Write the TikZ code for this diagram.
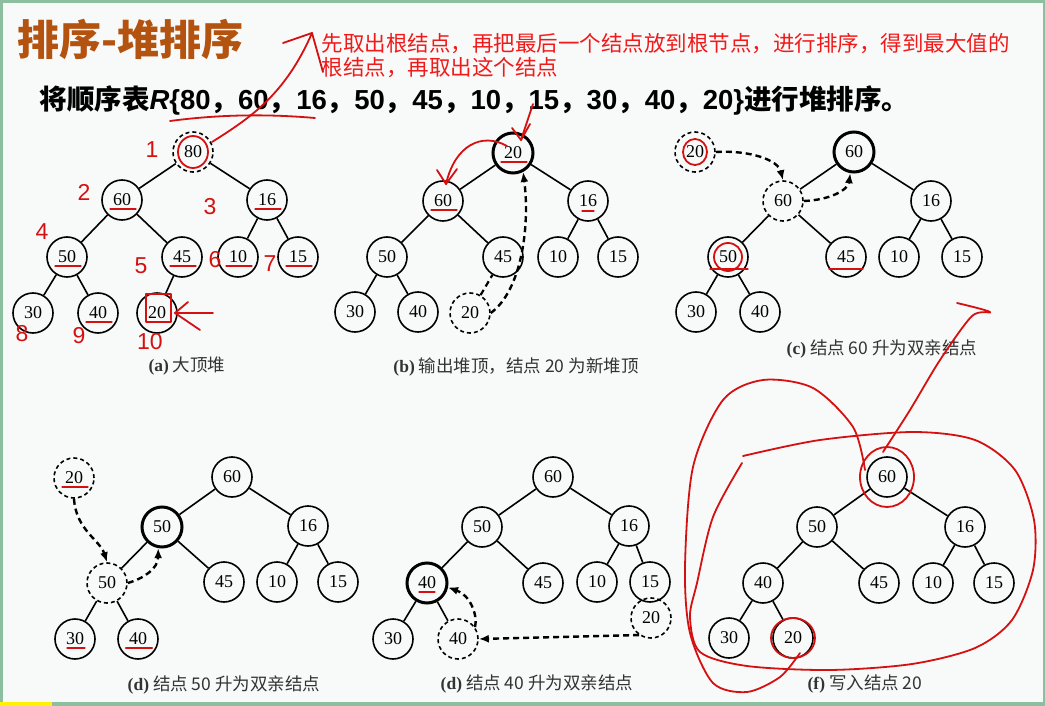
\documentclass[tikz,border=0pt]{standalone}
\usepackage{fontspec}
\setmainfont{Liberation Serif}
\newfontfamily\cjk{Noto Sans CJK SC}
\newfontfamily\arialfont{Liberation Sans}
\usetikzlibrary{arrows.meta,calc,positioning}
\newcommand{\sortnum}[1]{{\arialfont\bfseries #1}}
\definecolor{TitleBrown}{HTML}{B4520F}
\definecolor{FrameGreen}{HTML}{8CBFA0}
\definecolor{PaperWhite}{HTML}{F8FAF9}
\definecolor{PenRed}{HTML}{D41010}
\definecolor{NoteRed}{HTML}{F01A1A}
\tikzset{
    hnode/.style = {draw, circle, line width=1.6pt, minimum size=40pt,
        inner sep=0pt, font=\fontsize{18}{18}\selectfont},
    topnode/.style = {hnode, line width=3pt},
    ghost/.style = {hnode, dash pattern=on 4pt off 3pt},
    edge/.style = {draw, line width=1.6pt},
    move/.style = {draw, line width=2.4pt, dash pattern=on 6pt off 4pt,
        -{Latex[length=10pt,width=8pt]}},
    caption/.style = {font=\cjk\fontsize{17.5}{17.5}\selectfont, text=black!80},
    pen/.style = {draw=PenRed, line width=1.8pt, line cap=round, line join=round},
    hand/.style = {text=PenRed, inner sep=1pt, font=\arialfont\fontsize{23}{23}\selectfont}
}
\begin{document}
\begin{tikzpicture}[x=1pt, y=-1pt]
    % page
    \useasboundingbox (0,0) rectangle (1045,706);
    \fill[PaperWhite] (0,0) rectangle (1045,706);
    \fill[FrameGreen] (0,0) rectangle (3,706);
    \fill[FrameGreen] (0,0) rectangle (1045,3);
    \fill[FrameGreen] (1043,0) rectangle (1045,706);
    \fill[FrameGreen] (0,702) rectangle (1045,706);
    \fill[yellow] (0,702) rectangle (52,706);
    % headings
    \node[anchor=west, text=TitleBrown, font=\cjk\bfseries\fontsize{42}{42}\selectfont] (title) at (14,39) {排序-堆排序};
    \node[anchor=west, font=\cjk\bfseries\fontsize{27.5}{27.5}\selectfont] (task) at (36,100)
        {将顺序表\sortnum{\itshape R}\sortnum{\{80}，\sortnum{60}，\sortnum{16}，\sortnum{50}，\sortnum{45}，\sortnum{10}，\sortnum{15}，\sortnum{30}，\sortnum{40}，\sortnum{20\}}进行堆排序。};
    \node[anchor=north west, align=left, text=NoteRed, font=\cjk\fontsize{21.5}{24}\selectfont] (note) at (318,30)
        {先取出根结点，再把最后一个结点放到根节点，进行排序，得到最大值的\\根结点，再取出这个结点};

    % (a)
    \begin{scope}[shift={(193,152)}]
        \foreach \n/\x/\y/\v/\s in {1/0/0/80/ghost, 2/-71/48/60/hnode, 3/74/48/16/hnode,
            4/-126/105/50/hnode, 5/-11/105/45/hnode, 6/45/105/10/hnode, 7/105/105/15/hnode,
            8/-160/161/30/hnode, 9/-95/161/40/hnode, 10/-36/161/20/hnode}
            \node[\s] (a\n) at (\x,\y) {\v};
        \foreach \p/\c in {1/2,1/3,2/4,2/5,3/6,3/7,4/8,4/9,5/10}
            \draw[edge] (a\p) -- (a\c);
    \end{scope}
    \node[caption] (capa) at (187,366) {{\rmfamily\bfseries (a)}\ 大顶堆};

    % (b)
    \begin{scope}[shift={(513,153)}]
        \foreach \n/\x/\y/\v/\s in {1/0/0/20/topnode, 2/-70/48/60/hnode, 3/75/48/16/hnode,
            4/-126/104/50/hnode, 5/-10/104/45/hnode, 6/45/104/10/hnode, 7/105/104/15/hnode,
            8/-158/159/30/hnode, 9/-95/159/40/hnode, 10/-43/160/20/ghost}
            \node[\s] (b\n) at (\x,\y) {\v};
        \foreach \p/\c in {1/2,1/3,2/4,2/5,3/6,3/7,4/8,4/9}
            \draw[edge] (b\p) -- (b\c);
    \end{scope}
    \draw[edge, line width=2.2pt, dash pattern=on 6pt off 4pt] (b10) -- (b5);
    \draw[move] (b10.east) .. controls (522,290) and (530,225) .. (b1.-62);
    \node[caption] (capb) at (516,367) {{\rmfamily\bfseries (b)}\ 输出堆顶，结点 20 为新堆顶};

    % (c)
    \begin{scope}[shift={(854,152)}]
        \foreach \n/\x/\y/\v/\s in {0/-159/0/20/ghost, 1/0/0/60/topnode, 2/-71/49/60/ghost,
            3/77/49/16/hnode, 4/-126/105/50/hnode, 5/-8/105/45/hnode, 6/45/105/10/hnode,
            7/108/105/15/hnode, 8/-158/160/30/hnode, 9/-94/160/40/hnode}
            \node[\s] (c\n) at (\x,\y) {\v};
        \foreach \p/\c in {1/2,1/3,2/4,2/5,3/6,3/7,4/8,4/9}
            \draw[edge] (c\p) -- (c\c);
    \end{scope}
    \draw[move] (c0.east) .. controls (750,150) and (778,160) .. (c2.north);
    \draw[move] (c2.east) .. controls (830,200) and (848,190) .. (c1.-100);
    \node[caption] (capc) at (882,349) {{\rmfamily\bfseries (c)}\ 结点 60 升为双亲结点};

    % (d) 50
    \begin{scope}[shift={(232,477)}]
        \foreach \n/\x/\y/\v/\s in {0/-158/1/20/ghost, 1/0/0/60/hnode, 2/-70/50/50/topnode,
            3/76/49/16/hnode, 4/-125/106/50/ghost, 5/-8/105/45/hnode, 6/45/105/10/hnode,
            7/106/105/15/hnode, 8/-157/162/30/hnode, 9/-94/162/40/hnode}
            \node[\s] (d\n) at (\x,\y) {\v};
        \foreach \p/\c in {1/2,1/3,2/4,2/5,3/6,3/7,4/8,4/9}
            \draw[edge] (d\p) -- (d\c);
    \end{scope}
    \draw[move] (d0.south) .. controls (76,530) and (100,540) .. (d4.north);
    \draw[move] (d4.east) .. controls (145,578) and (158,568) .. (d2.-100);
    \node[caption] (capd) at (224,685) {{\rmfamily\bfseries (d)}\ 结点 50 升为双亲结点};

    % (d) 40
    \begin{scope}[shift={(553,477)}]
        \foreach \n/\x/\y/\v/\s in {0/98/141/20/ghost, 1/0/0/60/hnode, 2/-71/50/50/hnode,
            3/76/49/16/hnode, 4/-126/106/40/topnode, 5/-10/106/45/hnode, 6/44/105/10/hnode,
            7/97/105/15/hnode, 8/-160/162/30/hnode, 9/-95/162/40/ghost}
            \node[\s] (e\n) at (\x,\y) {\v};
        \foreach \p/\c in {1/2,1/3,2/4,2/5,3/6,3/7,4/8,4/9}
            \draw[edge] (e\p) -- (e\c);
    \end{scope}
    \draw[move] (e0.-125) -- (e9.east);
    \draw[move] (e9.35) .. controls (478,615) and (470,595) .. (e4.-12);
    \node[caption] (cape) at (537,684) {{\rmfamily\bfseries (d)}\ 结点 40 升为双亲结点};

    % (f)
    \begin{scope}[shift={(887,477)}]
        \foreach \n/\x/\y/\v/\s in {1/0/0/60/hnode, 2/-70/50/50/hnode, 3/78/50/16/hnode,
            4/-124/106/40/hnode, 5/-8/106/45/hnode, 6/46/106/10/hnode, 7/107/106/15/hnode,
            8/-158/161/30/hnode, 9/-94/161/20/hnode}
            \node[\s] (f\n) at (\x,\y) {\v};
        \foreach \p/\c in {1/2,1/3,2/4,2/5,3/6,3/7,4/8,4/9}
            \draw[edge] (f\p) -- (f\c);
    \end{scope}
    \node[caption] (capf) at (865,684) {{\rmfamily\bfseries (f)}\ 写入结点 20};

    % red pen marks
    \foreach \t/\x/\y in {1/152/150, 2/84/192, 3/210/207, 4/42/232, 5/141/266,
        6/215/260, 7/270/264, 8/22/334, 9/79/336, 10/150/342}
        \node[hand] (mark\t) at (\x,\y) {\t};
    \draw[pen] (212,142) .. controls (250,118) and (285,95) .. (312,33);
    \draw[pen] (283,43) -- (312,33) -- (323,72);
    \draw[pen] (170,121) .. controls (230,113) and (280,115) .. (315,118);
    \draw[pen] (a1.center) ellipse [x radius=15, y radius=16];
    \draw[pen] (146,294) rectangle (171,322);
    \draw[pen] (213,313) -- (175,313);
    \draw[pen] (188,302) -- (175,313) -- (200,330);
    \foreach \n in {2,3,4,5,6,7,9}
        \draw[pen, line width=1.3pt] ([xshift=-12pt,yshift=-9pt]a\n.center) -- ++(26,0);
    \draw[pen] (533,104) -- (521,140);
    \draw[pen] (512,128) -- (521,140) -- (530,124);
    \draw[pen] (507,146) .. controls (482,132) and (455,145) .. (446,184);
    \draw[pen] (437,170) -- (446,184) -- (457,169);
    \draw[pen, line width=1.3pt] ([xshift=-12pt,yshift=-9pt]b1.center) -- ++(26,0);
    \draw[pen, line width=1.3pt] ([xshift=-12pt,yshift=-9pt]b2.center) -- ++(26,0);
    \draw[pen, line width=1.3pt] ([xshift=-6pt,yshift=-10pt]b3.center) -- ++(12,0);
    \draw[pen] (c0.center) ellipse [x radius=12, y radius=13];
    \draw[pen] (c4.center) ellipse [x radius=14, y radius=14];
    \draw[pen, line width=1.3pt] ([xshift=-18pt,yshift=-12pt]c4.center) -- ++(38,0);
    \draw[pen, line width=1.3pt] ([xshift=-17pt,yshift=-12pt]c5.center) -- ++(34,0);
    \draw[pen, line width=1.3pt] ([xshift=-12pt,yshift=-9pt]d0.center) -- ++(26,0);
    \draw[pen, line width=1.3pt] ([xshift=-8pt,yshift=-9pt]d8.center) -- ++(18,0);
    \draw[pen, line width=2.2pt] ([xshift=-12pt,yshift=-9pt]d9.center) -- ++(26,0);
    \draw[pen, line width=1.3pt] ([xshift=-8pt,yshift=-9pt]e4.center) -- ++(16,0);
    \draw[pen] plot[smooth] coordinates {(957,303) (990,312) (972,316) (940,360) (910,410) (883,452)};
    \draw[pen] (f1.center) ellipse [x radius=27, y radius=30];
    \draw[pen] (f9.center) ellipse [x radius=22, y radius=20];
    \draw[pen] plot[smooth] coordinates {(743,456) (820,440) (913,432) (975,440) (1015,470)
        (1034,520) (1033,570) (1012,620) (975,648) (912,664) (830,670) (747,666) (700,652)
        (690,617) (697,583) (713,517) (742,463)};
    \draw[pen] plot[smooth] coordinates {(865,470) (853,427) (813,388) (763,380) (723,400)
        (693,467) (685,567) (690,633) (713,683) (747,692) (780,677) (800,653)};
\end{tikzpicture}
\end{document}
